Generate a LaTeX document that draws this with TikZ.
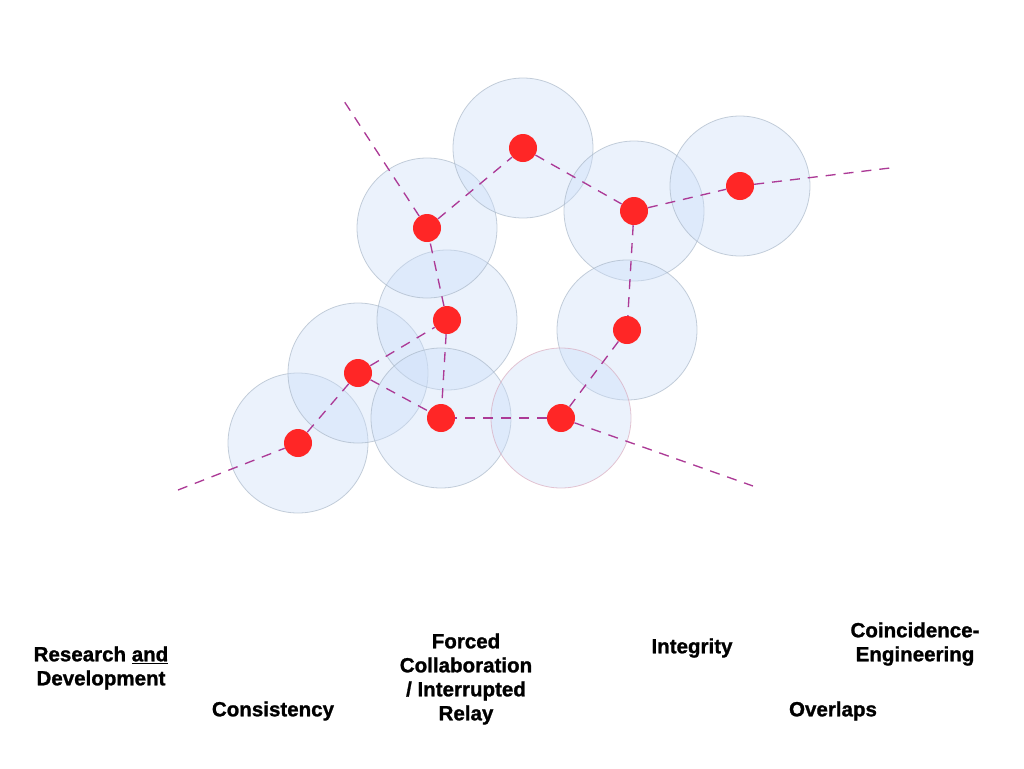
\documentclass[tikz,border=0pt]{standalone}
\usepackage{fontspec}
\setmainfont{Liberation Sans}
\newfontfamily\heavyfont{Liberation Sans Bold}[FakeBold=1.2]
\usepackage{xcolor}
\usetikzlibrary{positioning}

\definecolor{zonefill}{RGB}{204,222,248}
\definecolor{zoneedge}{RGB}{160,175,192}
\definecolor{zonepink}{RGB}{214,160,180}
\definecolor{dotred}{RGB}{255,38,38}
\definecolor{linkpurple}{RGB}{172,58,150}

\begin{document}
\begin{tikzpicture}[x=0.75pt, y=-0.75pt,
  zone/.style={circle, minimum size=105pt, inner sep=0pt, fill=zonefill, fill opacity=0.4,
    draw=zoneedge, draw opacity=0.6, line width=0.6pt},
  dot/.style={circle, minimum size=21pt, inner sep=0pt, fill=dotred},
  link/.style={draw=linkpurple, line width=1pt, dash pattern=on 7.5pt off 6pt},
  lbl/.style={font=\heavyfont\fontsize{15.4}{18}\selectfont, align=center}]
  \useasboundingbox (0,0) rectangle (1024,768);

  % zones
  \foreach \n/\x/\y in {a/298/443, b/358/373, c/447/320, d/427/228, e/523/148,
                        f/634/211, g/740/186, h/627/330, j/441/418}
    \node[zone] (z\n) at (\x,\y) {};
  \node[zone, draw=zonepink] (zi) at (561,418) {};

  % dots
  \foreach \n in {a,b,c,d,e,f,g,h,i,j}
    \node[dot] (\n) at (z\n) {};

  % free ends
  \coordinate (endsw) at (178,490);
  \coordinate (endnw) at (342,98);
  \coordinate (endne) at (890,168);
  \coordinate (endse) at (753,486);

  % links
  \foreach \u/\v in {endsw/a, a/b, b/c, b/j, c/d, c/j, d/endnw, d/e, e/f,
                     f/g, g/endne, f/h, h/i, i/j, i/endse}
    \draw[link] (\u) -- (\v);

  % labels
  \node[lbl] (resdev) at (101,668) {Research \underline{and}\\Development};
  \node[lbl] (consist) at (273,711) {Consistency};
  \node[lbl] (relay) at (466,679) {Forced\\Collaboration\\/ Interrupted\\Relay};
  \node[lbl] (integ) at (692,648) {Integrity};
  \node[lbl] (coeng) at (915,644) {Coincidence-\\Engineering};
  \node[lbl] (overl) at (833,711) {Overlaps};
\end{tikzpicture}
\end{document}
